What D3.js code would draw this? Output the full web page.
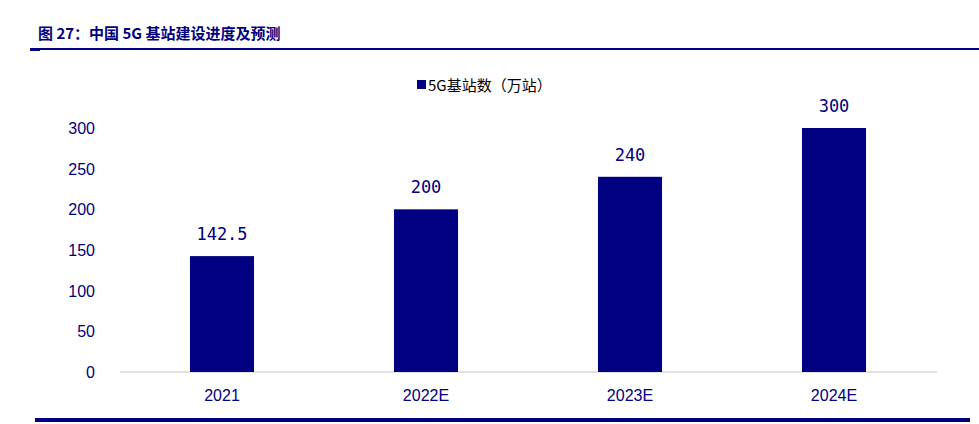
<!DOCTYPE html>
<html><head><meta charset="utf-8">
<script src="https://cdn.jsdelivr.net/npm/d3@7"></script>
<style>body{margin:0;background:#fff}</style>
</head><body>
<svg id="chart" width="979" height="424"></svg>
<script>
var categories = ['2021', '2022E', '2023E', '2024E'];
var values = [142.5, 200, 240, 300];
var valueLabels = ['142.5', '200', '240', '300'];
var yTicks = [0, 50, 100, 150, 200, 250, 300];
var seriesName = '5G基站数（万站）';

var NAVY = '#000080';
var svg = d3.select('#chart');

// title
svg.append('text')
  .attr('x', 38).attr('y', 39)
  .attr('font-family', 'Noto Sans CJK SC, serif')
  .attr('font-weight', 'bold').attr('font-size', 15)
  .attr('fill', NAVY)
  .text('图 27：中国 5G 基站建设进度及预测');
svg.append('rect').attr('x', 30).attr('y', 48).attr('width', 949).attr('height', 2).attr('fill', NAVY);
svg.append('rect').attr('x', 30).attr('y', 48).attr('width', 10).attr('height', 3).attr('fill', NAVY);
svg.append('rect').attr('x', 35).attr('y', 418).attr('width', 935).attr('height', 4).attr('fill', NAVY);

var x = d3.scaleBand().domain(categories).range([120, 936]).paddingInner(0.686).paddingOuter(0.343);
var y = d3.scaleLinear().domain([0, 300]).range([372, 128]);

// y axis labels
svg.append('g').selectAll('text').data(yTicks).join('text')
  .attr('x', 95).attr('y', function (d) { return y(d) + 6; })
  .attr('text-anchor', 'end')
  .attr('font-family', 'Liberation Sans Narrow, Arial Narrow, sans-serif')
  .attr('font-size', 16).attr('fill', NAVY)
  .text(function (d) { return d; });

// baseline
svg.append('line').attr('x1', 120).attr('x2', 937).attr('y1', y(0)).attr('y2', y(0))
  .attr('stroke', '#d9d9d9').attr('stroke-width', 1.5);

// bars
svg.append('g').selectAll('rect').data(values).join('rect')
  .attr('x', function (d, i) { return x(categories[i]); })
  .attr('y', function (d) { return y(d); })
  .attr('width', x.bandwidth())
  .attr('height', function (d) { return y(0) - y(d); })
  .attr('fill', NAVY);

// value labels
svg.append('g').selectAll('text').data(values).join('text')
  .attr('x', function (d, i) { return x(categories[i]) + x.bandwidth() / 2; })
  .attr('y', function (d) { return y(d) - 16; })
  .attr('text-anchor', 'middle')
  .attr('font-family', 'DejaVu Sans Mono, monospace')
  .attr('font-size', 17).attr('fill', NAVY)
  .text(function (d, i) { return valueLabels[i]; });

// x labels
svg.append('g').selectAll('text').data(categories).join('text')
  .attr('x', function (d) { return x(d) + x.bandwidth() / 2; })
  .attr('y', 401)
  .attr('text-anchor', 'middle')
  .attr('font-family', 'Liberation Sans Narrow, Arial Narrow, sans-serif')
  .attr('font-size', 16).attr('fill', NAVY)
  .text(function (d) { return d; });

// legend
svg.append('rect').attr('x', 417).attr('y', 80).attr('width', 9).attr('height', 9).attr('fill', NAVY);
svg.append('text').attr('x', 428).attr('y', 91)
  .attr('font-family', 'Noto Sans CJK SC, sans-serif')
  .attr('font-size', 15).attr('fill', '#000')
  .text(seriesName);
</script>
</body></html>
